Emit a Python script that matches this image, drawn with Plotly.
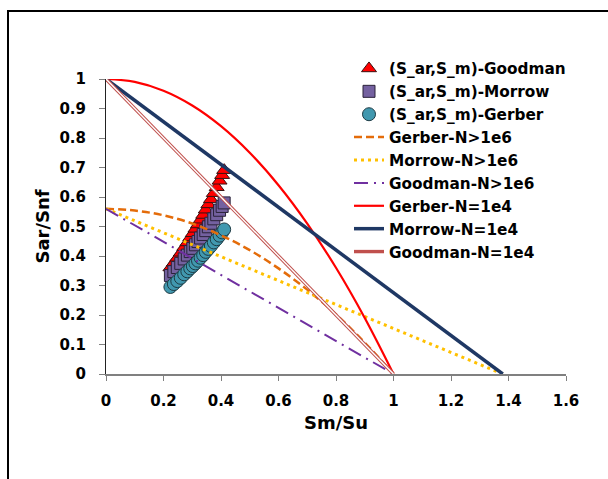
import plotly.graph_objects as go

# ---------------- data ----------------
# scatter points (Sm/Su, Sar/Snf)
pts_x = [0.224, 0.236, 0.248, 0.26, 0.272, 0.283, 0.293, 0.302, 0.311, 0.32,
         0.329, 0.338, 0.347, 0.356, 0.365, 0.375, 0.385, 0.395, 0.404, 0.411]
goodman_pts = [0.361, 0.377, 0.394, 0.411, 0.430, 0.446, 0.463, 0.477, 0.492, 0.507,
               0.523, 0.539, 0.557, 0.575, 0.592, 0.613, 0.633, 0.655, 0.674, 0.691]
morrow_pts = [0.334, 0.347, 0.361, 0.375, 0.390, 0.403, 0.415, 0.426, 0.438, 0.449,
              0.461, 0.473, 0.486, 0.499, 0.511, 0.526, 0.540, 0.555, 0.568, 0.580]
gerber_pts = [0.295, 0.305, 0.315, 0.326, 0.338, 0.348, 0.358, 0.366, 0.375, 0.384,
              0.394, 0.403, 0.414, 0.424, 0.434, 0.446, 0.457, 0.469, 0.480, 0.490]

# curves
curve_x = [0.0, 0.1, 0.2, 0.3, 0.4, 0.5, 0.6, 0.7, 0.8, 0.9, 1.0]
gerber_1e6 = [0.56, 0.554, 0.538, 0.51, 0.47, 0.42, 0.358, 0.286, 0.202, 0.106, 0.0]
gerber_1e4 = [1.0, 0.99, 0.96, 0.91, 0.84, 0.75, 0.64, 0.51, 0.36, 0.19, 0.0]
morrow_1e6_x = [0.0, 1.38]
morrow_1e6_y = [0.56, 0.0]
goodman_1e6_x = [0.0, 1.0]
goodman_1e6_y = [0.56, 0.0]
morrow_1e4_x = [0.0, 1.38]
morrow_1e4_y = [1.0, 0.0]
goodman_1e4_x = [0.0, 1.0]
goodman_1e4_y = [1.0, 0.0]

x_ticks = [0, 0.2, 0.4, 0.6, 0.8, 1, 1.2, 1.4, 1.6]
x_tick_labels = ["0", "0.2", "0.4", "0.6", "0.8", "1", "1.2", "1.4", "1.6"]
y_ticks = [0, 0.1, 0.2, 0.3, 0.4, 0.5, 0.6, 0.7, 0.8, 0.9, 1]
y_tick_labels = ["0", "0.1", "0.2", "0.3", "0.4", "0.5", "0.6", "0.7", "0.8", "0.9", "1"]

FONT = "DejaVu Sans"

fig = go.Figure()

fig.add_trace(go.Scatter(x=pts_x, y=goodman_pts, mode="markers", name="(S_ar,S_m)-Goodman",
                         marker=dict(symbol="triangle-up", size=13, color="#FF0000",
                                     line=dict(color="#3a1010", width=1)), cliponaxis=False))
fig.add_trace(go.Scatter(x=pts_x, y=morrow_pts, mode="markers", name="(S_ar,S_m)-Morrow",
                         marker=dict(symbol="square", size=12, color="#7461A0",
                                     line=dict(color="#2a2238", width=1)), cliponaxis=False))
fig.add_trace(go.Scatter(x=pts_x, y=gerber_pts, mode="markers", name="(S_ar,S_m)-Gerber",
                         marker=dict(symbol="circle", size=13, color="#4198AF",
                                     line=dict(color="#1d3b44", width=1)), cliponaxis=False))

fig.add_trace(go.Scatter(x=curve_x, y=gerber_1e6, mode="lines", name="Gerber-N>1e6",
                         line=dict(color="#E46C0A", width=2.5, dash="8px,4px", shape="spline"),
                         cliponaxis=False))
fig.add_trace(go.Scatter(x=morrow_1e6_x, y=morrow_1e6_y, mode="lines", name="Morrow-N>1e6",
                         line=dict(color="#FFC000", width=3, dash="3px,4px"), cliponaxis=False))
fig.add_trace(go.Scatter(x=goodman_1e6_x, y=goodman_1e6_y, mode="lines", name="Goodman-N>1e6",
                         line=dict(color="#7030A0", width=2, dash="14px,6px,2px,6px"), cliponaxis=False))
fig.add_trace(go.Scatter(x=curve_x, y=gerber_1e4, mode="lines", name="Gerber-N=1e4",
                         line=dict(color="#FF0000", width=2.2, shape="spline"), cliponaxis=False))
fig.add_trace(go.Scatter(x=morrow_1e4_x, y=morrow_1e4_y, mode="lines", name="Morrow-N=1e4",
                         line=dict(color="#1F3864", width=3.5), cliponaxis=False))
fig.add_trace(go.Scatter(x=goodman_1e4_x, y=goodman_1e4_y, mode="lines", name="Goodman-N=1e4",
                         legendgroup="g1e4",
                         line=dict(color="#C0504D", width=3.4), cliponaxis=False))
fig.add_trace(go.Scatter(x=goodman_1e4_x, y=goodman_1e4_y, mode="lines", name="Goodman-N=1e4",
                         legendgroup="g1e4", showlegend=False, hoverinfo="skip",
                         line=dict(color="#FFFFFF", width=1.4), cliponaxis=False))

W, H = 608, 479
L, R, T, B = 106, 42, 79, 105
pw, ph = W - L - R, H - T - B


def px(xp):
    return (xp - L) / pw


def py(yp):
    return (H - B - yp) / ph


fig.update_layout(
    width=W, height=H,
    margin=dict(l=L, r=R, t=T, b=B, pad=0),
    paper_bgcolor="white", plot_bgcolor="white",
    font=dict(family=FONT, color="black"),
    showlegend=True,
    legend=dict(x=px(349), y=py(52), xanchor="left", yanchor="top",
                font=dict(family=FONT, size=15.3, weight="bold", color="black"),
                bgcolor="rgba(0,0,0,0)", tracegroupgap=0, itemwidth=30),
    xaxis=dict(range=[0, 1.6], tickvals=x_ticks, ticktext=x_tick_labels,
               showgrid=False, zeroline=False, showline=True, linecolor="#808080", linewidth=1.5,
               ticks="outside", ticklen=5, tickcolor="#808080", tickwidth=1,
               ticklabelstandoff=7,
               tickfont=dict(family=FONT, size=15, weight="bold", color="black")),
    yaxis=dict(range=[0, 1], tickvals=y_ticks, ticktext=y_tick_labels,
               showgrid=False, zeroline=False, showline=True, linecolor="#222222", linewidth=1,
               ticks="outside", ticklen=6, tickcolor="#808080", tickwidth=1,
               ticklabelstandoff=10,
               tickfont=dict(family=FONT, size=15, weight="bold", color="black")),
    annotations=[
        dict(text="Sm/Su", xref="paper", yref="paper", x=0.5, y=py(422),
             xanchor="center", yanchor="middle", showarrow=False,
             font=dict(family=FONT, size=18, weight="bold", color="black")),
        dict(text="Sar/Snf", xref="paper", yref="paper", x=px(42), y=0.5,
             xanchor="center", yanchor="middle", showarrow=False, textangle=-90,
             font=dict(family=FONT, size=18, weight="bold", color="black")),
    ],
    shapes=[
        dict(type="rect", xref="paper", yref="paper", x0=px(8), y0=py(495), x1=px(625), y1=py(11),
             line=dict(color="black", width=2), fillcolor="rgba(0,0,0,0)", layer="above"),
    ],
)

fig.write_html("out.html", config={"displayModeBar": False},
               post_script="document.body.style.margin='0';")
